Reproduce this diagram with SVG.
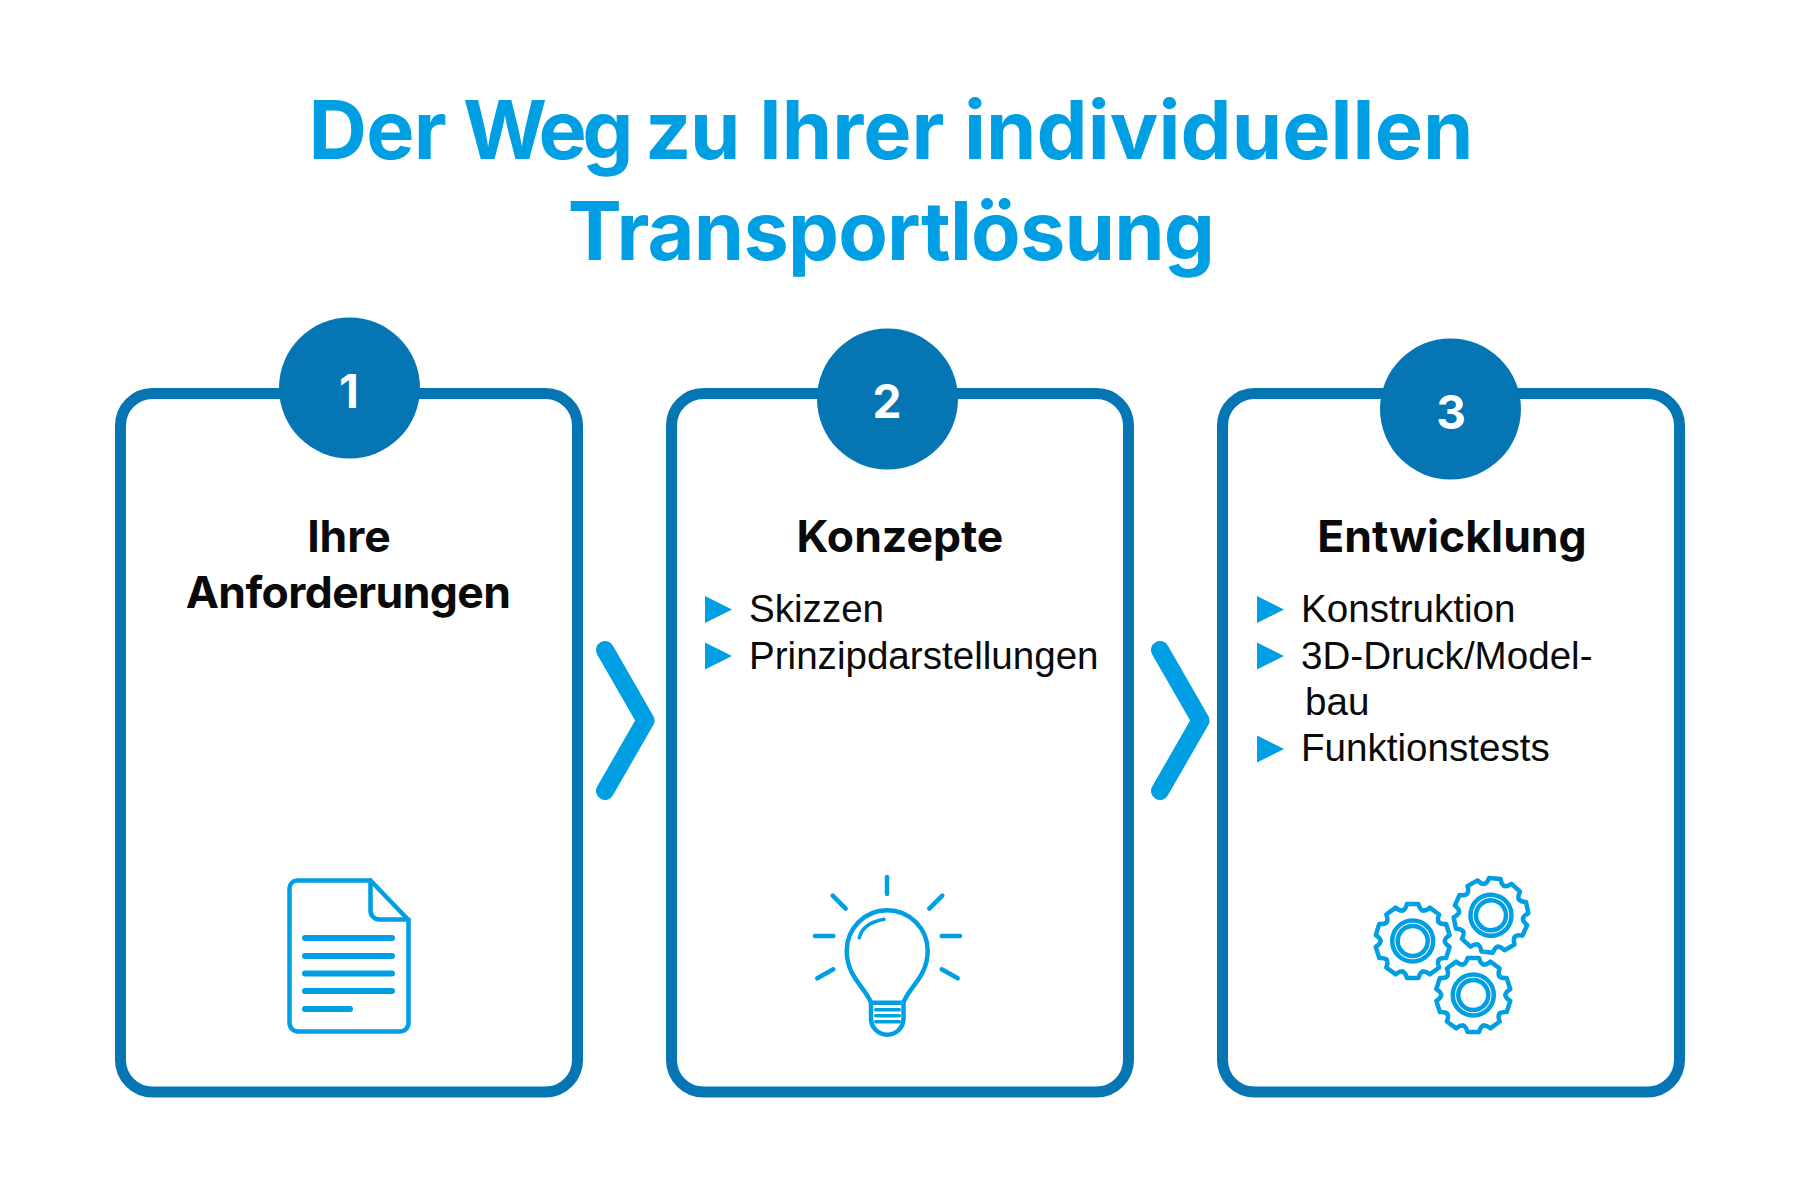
<svg xmlns="http://www.w3.org/2000/svg" width="1800" height="1200" viewBox="0 0 1800 1200">
<style>
.title{font:700 81px Inter,"Liberation Sans",sans-serif;fill:#009fe3;letter-spacing:-0.8px}
.head{font:700 44.500px Inter,"Liberation Sans",sans-serif;fill:#0a0a0a;text-anchor:middle}
.num{font:700 46px Inter,"Liberation Sans",sans-serif;fill:#fff;text-anchor:middle}
.body{font:400 38.600px "Liberation Sans",Arial,sans-serif;fill:#0a0a0a}
.card{fill:#fff;stroke:#0575b4;stroke-width:11}
.disc{fill:#0575b4}
.tri{fill:#009fe3}
.chev{fill:none;stroke:#009fe3;stroke-width:18;stroke-linecap:round;stroke-linejoin:round}
.ic{fill:none;stroke:#009fe3;stroke-width:4.500;stroke-linecap:round;stroke-linejoin:round}
.ln{fill:none;stroke:#009fe3;stroke-width:6;stroke-linecap:round}
.ln4{fill:none;stroke:#009fe3;stroke-width:3.500;stroke-linecap:round}
</style>
<defs>
<path id="tooth" d="M-9.900 -30.600C-7.500 -31.400 -6.800 -33 -5.800 -37L5.800 -37C6.800 -33 7.500 -31.400 9.900 -30.600"/>
<g id="gear" class="ic">
<use href="#tooth"/><use href="#tooth" transform="rotate(36)"/><use href="#tooth" transform="rotate(72)"/><use href="#tooth" transform="rotate(108)"/><use href="#tooth" transform="rotate(144)"/><use href="#tooth" transform="rotate(180)"/><use href="#tooth" transform="rotate(216)"/><use href="#tooth" transform="rotate(252)"/><use href="#tooth" transform="rotate(288)"/><use href="#tooth" transform="rotate(324)"/>
<circle r="20.500"/><circle r="15"/>
</g>
<path id="bullet" class="tri" d="M0 -13.500L27 0L0 13.500Z"/>
</defs>
<rect width="1800" height="1200" fill="#fff"/>
<g id="title">
<text class="title" y="158.500"><tspan x="308.500">Der</tspan><tspan x="463" letter-spacing="-4.500">Weg</tspan><tspan x="645" letter-spacing="-1.500">zu</tspan><tspan x="759" letter-spacing="0">Ihrer</tspan><tspan x="964" letter-spacing="0.100">individuellen</tspan></text>
<text class="title" x="891" y="260" text-anchor="middle">Transportlösung</text>
</g>
<g id="connectors">
<path class="chev" d="M605 650L645.500 720.500L605 791"/>
<path class="chev" d="M1160 650L1200.500 720.500L1160 791"/>
</g>
<g id="node1">
<rect class="card" x="120.500" y="393.500" width="457" height="698.500" rx="32"/>
<circle class="disc" cx="349.500" cy="388" r="70.500"/>
<text class="num" x="349" y="408">1</text>
<text class="head" x="349" y="552">Ihre</text>
<text class="head" x="348" y="608" letter-spacing="-0.600">Anforderungen</text>
<g id="icon-doc">
<path class="ic" d="M297 880.500H370.500L408.500 920V1023A8.500 8.500 0 0 1 400 1031.500H298A8.500 8.500 0 0 1 289.500 1023V888A8 8 0 0 1 297 880.500Z"/>
<path class="ic" d="M370.500 880.500V910A9 9 0 0 0 379.500 919.500H408.500"/>
<path class="ln" d="M305 938H392M305 956H392M305 973.500H392M305 991H392M305 1009H350"/>
</g>
</g>
<g id="node2">
<rect class="card" x="671.500" y="393.500" width="457" height="698.500" rx="32"/>
<circle class="disc" cx="887.500" cy="399" r="70.500"/>
<text class="num" x="887" y="418">2</text>
<text class="head" x="900" y="552">Konzepte</text>
<use href="#bullet" x="705" y="609.500"/>
<text class="body" x="749" y="622">Skizzen</text>
<use href="#bullet" x="705" y="656"/>
<text class="body" x="749" y="669">Prinzipdarstellungen</text>
<g id="icon-bulb">
<path class="ic" d="M887 877V894M832.700 895.700L845.700 908.700M942.300 895.700L929.300 908.700M815 936H833.300M941.700 936H960M817.300 978.300L833.300 969.300M941.700 969.300L957.700 978.300"/>
<path class="ic" d="M871 1002.700C866 988 846.700 977 846.700 950.700A40.500 40.500 0 0 1 927.700 950.700C927.700 977 908 988 903.500 1002.700"/>
<path class="ic" d="M871 1002.700H903.500V1018.500A16.250 16.250 0 0 1 871 1018.500Z"/>
<path class="ln4" d="M875.700 1009.700H899.300M875.700 1015.700H899.300M875.700 1021.700H899.300M859.300 937.700Q863 923 884 919.300"/>
</g>
</g>
<g id="node3">
<rect class="card" x="1222.500" y="393.500" width="457" height="698.500" rx="32"/>
<circle class="disc" cx="1450.500" cy="409" r="70.500"/>
<text class="num" x="1451" y="429">3</text>
<text class="head" x="1452" y="552">Entwicklung</text>
<use href="#bullet" x="1257" y="609.500"/>
<text class="body" x="1301" y="622">Konstruktion</text>
<use href="#bullet" x="1257" y="656"/>
<text class="body" x="1301" y="669">3D-Druck/Model-</text>
<text class="body" x="1305" y="715">bau</text>
<use href="#bullet" x="1257" y="749"/>
<text class="body" x="1301" y="761">Funktionstests</text>
<g id="icon-gears">
<use href="#gear" transform="translate(1412.700 941)"/>
<use href="#gear" transform="translate(1491 915.300) rotate(6)"/>
<use href="#gear" transform="translate(1473.300 995)"/>
</g>
</g>
</svg>
